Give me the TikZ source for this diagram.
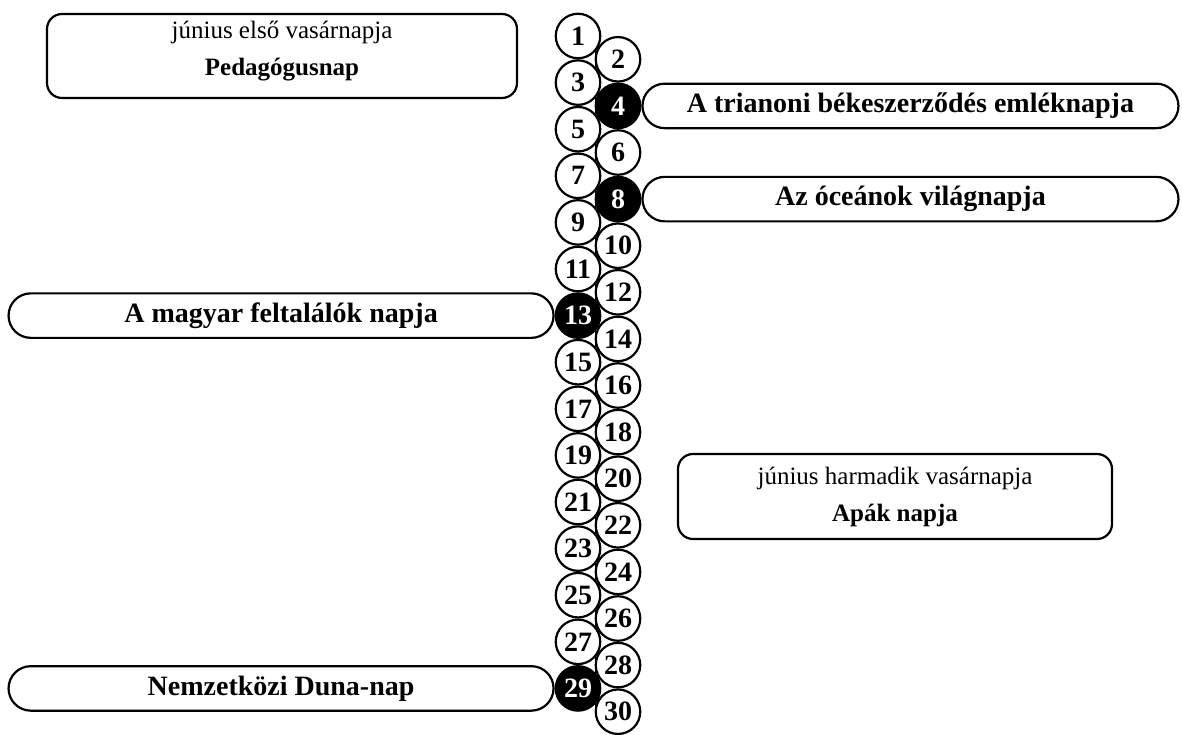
\documentclass[tikz,border=0pt]{standalone}
\usepackage{fontspec}
\setmainfont{Liberation Serif}
\usetikzlibrary{positioning,shapes.misc}

\tikzset{
  day/.style={circle, draw, line width=2.2pt, minimum size=44.5pt, inner sep=0pt, fill=white,
              font=\fontsize{28}{30}\selectfont\bfseries},
  hday/.style={day, fill=black, text=white},
  pill/.style={rounded rectangle, draw, line width=2.2pt, minimum height=44.5pt, inner sep=0pt,
               font=\fontsize{28}{30}\selectfont\bfseries},
  card/.style={rectangle, rounded corners=15pt, draw, line width=2.2pt, align=center, inner sep=0pt,
               font=\fontsize{25}{37}\selectfont}
}

\begin{document}
\begin{tikzpicture}[x=1pt, y=-1pt]
  \useasboundingbox (0,0) rectangle (1182,734);

  \def\d{23.3};
  \def\xa{578};
  \def\xb{618};
  \def\ya{36};

	%line behind the days
  \coordinate (top) at (597,\ya);
  \coordinate (bottom) at (597,{\ya+29*\d});
  \draw[double, double distance=2.5pt, line width=0.6pt] (top) -- (bottom);

	%days
    \foreach \i/\s in {1/day,3/day,5/day,7/day,9/day,11/day,13/hday,15/day,17/day,19/day,21/day,23/day,25/day,27/day,29/hday}{
           \node[\s] (c\i) at (\xa, {\ya + (\i-1)*\d}) {\i};
    }
    \foreach \i/\s in {2/day,4/hday,6/day,8/hday,10/day,12/day,14/day,16/day,18/day,20/day,22/day,24/day,26/day,28/day,30/day}{
           \node[\s] (c\i) at (\xb, {\ya + (\i-1)*\d}) {\i};
    }

	%days with a name
 \node[pill, minimum width=536pt, right=0pt of c4] (trianon) {A trianoni békeszerződés emléknapja};
 \node[pill, minimum width=536pt, right=0pt of c8] (oceanok) {Az óceánok világnapja};
 \node[pill, minimum width=545pt, left=0pt of c13] (feltalalok) {A magyar feltalálók napja};
 \node[pill, minimum width=545pt, left=0pt of c29] (duna) {Nemzetközi Duna-nap};

	%movable days
 \node[card, minimum width=470pt, minimum height=84pt] (pedagogus) at (282,56)
      {június első vasárnapja\\\textbf{Pedagógusnap}\rule[-15pt]{0pt}{0pt}};
 \node[card, minimum width=434pt, minimum height=85pt] (apak) at (895,496.5)
      {június harmadik vasárnapja\\\textbf{Apák napja}};

\end{tikzpicture}
\end{document}
